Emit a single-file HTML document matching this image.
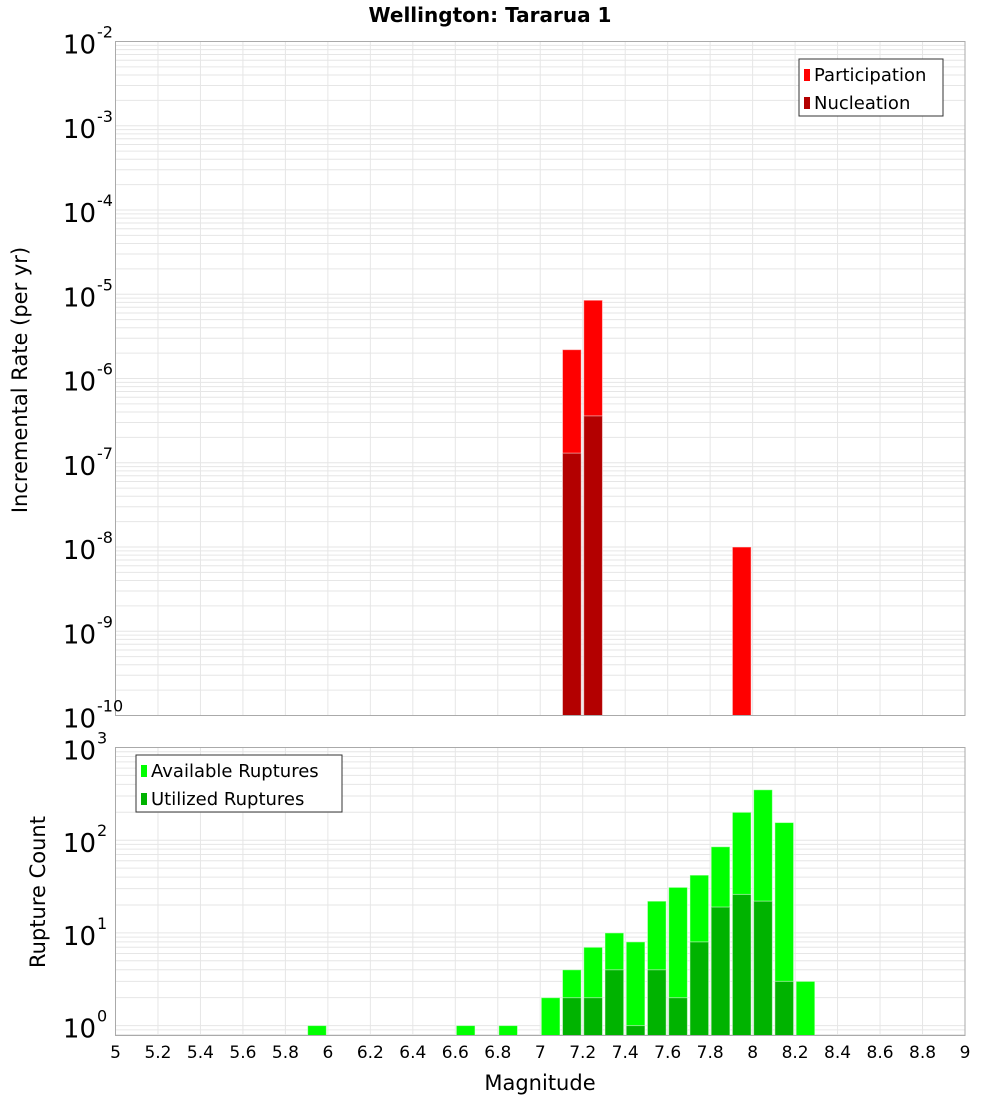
<!DOCTYPE html>
<html><head><meta charset="utf-8"><style>
body{margin:0;background:#fff;font-family:"DejaVu Sans","Liberation Sans",sans-serif;}
svg text{font-family:"DejaVu Sans","Liberation Sans",sans-serif;}
</style></head><body>
<svg id="c" width="1000" height="1100" xmlns="http://www.w3.org/2000/svg">
<text x="490" y="22" text-anchor="middle" font-size="20" font-weight="bold">Wellington: Tararua 1</text>
<text x="540" y="1090" text-anchor="middle" font-size="21">Magnitude</text>
<text transform="translate(27,380) rotate(-90)" text-anchor="middle" font-size="21">Incremental Rate (per yr)</text>
<text transform="translate(45,892) rotate(-90)" text-anchor="middle" font-size="21">Rupture Count</text>
</svg>
<script>
const rateBins=[7.1,7.2,7.9];
const partVals=[2.2e-6,8.5e-6,1.0e-8];
const nuclVals=[1.3e-7,3.6e-7,0];
const countBins=[5.9,6.6,6.8,7.0,7.1,7.2,7.3,7.4,7.5,7.6,7.7,7.8,7.9,8.0,8.1,8.2];
const availVals=[1,1,1,2,4,7,10,8,22,31,42,85,200,350,155,3];
const usedVals=[0,0,0,0,2,2,4,1,4,2,8,19,26,22,3,0];
const xTicks=[5,5.2,5.4,5.6,5.8,6,6.2,6.4,6.6,6.8,7,7.2,7.4,7.6,7.8,8,8.2,8.4,8.6,8.8,9];
const topExps=[-2,-3,-4,-5,-6,-7,-8,-9,-10];
const botExps=[3,2,1,0];

const svg=document.getElementById('c');const NS='http://www.w3.org/2000/svg';
function mk(t,a,p){const e=document.createElementNS(NS,t);for(const k in a)e.setAttribute(k,a[k]);(p||svg).appendChild(e);return e;}
const X0=115.5,X1=965,xmin=5,xmax=9;
const x=v=>X0+(v-xmin)/(xmax-xmin)*(X1-X0);
const T0=41.5,T1=715.5,tmin=-10,tmax=-2;
const yT=v=>T1-(Math.log10(v)-tmin)/(tmax-tmin)*(T1-T0);
const B0=747.5,B1=1035.5,bmin=-0.107,bmax=3;
const yB=v=>B1-(Math.log10(v)-bmin)/(bmax-bmin)*(B1-B0);

function grid(y0,y1,yf,lo,hi){
  const g=mk('g',{});
  
  xTicks.forEach(t=>mk('line',{x1:x(t),x2:x(t),y1:y0,y2:y1,stroke:'#e6e6e6','stroke-width':1},g));
  for(let d=Math.floor(lo);d<hi;d++)for(let m=1;m<10;m++){const v=m*Math.pow(10,d);const yy=yf(v);if(yy>=y0&&yy<=y1)mk('line',{x1:X0,x2:X1,y1:yy,y2:yy,stroke:'#e6e6e6','stroke-width':1},g);}
}
grid(T0,T1,yT,tmin,tmax);grid(B0,B1,yB,-1,bmax);

function bars(bins,vals,yf,base,color,name){
  bins.forEach((b,i)=>{if(!vals[i])return;const y=yf(vals[i]);
    const r=mk('rect',{x:x(b)+1,y:y,width:x(b+0.1)-x(b)-2.5,height:base-y,fill:color,stroke:'#fff','stroke-opacity':0.5,'stroke-width':1});
    });
}
bars(rateBins,partVals,yT,T1,'#ff0000','participation-bar');
bars(rateBins,nuclVals,yT,T1,'#b30000','nucleation-bar');
bars(countBins,availVals,yB,B1,'#00ff00','available-bar');
bars(countBins,usedVals,yB,B1,'#00b300','utilized-bar');

[[T0,T1],[B0,B1]].forEach(([a,b])=>{const r=mk('rect',{x:X0,y:a,width:X1-X0,height:b-a,fill:'none',stroke:'#aaa','stroke-width':1});});

xTicks.forEach(t=>{const e=mk('text',{x:x(t),y:1058,'text-anchor':'middle','font-size':17});e.textContent=String(t);});
function ylab(yy,exp){const e=mk('text',{x:96,y:yy+12,'text-anchor':'end','font-size':26});e.textContent='10';
  const s=mk('text',{x:97,y:yy-4,'text-anchor':'start','font-size':16});s.textContent=String(exp);}
topExps.forEach(e=>ylab(yT(Math.pow(10,e)),e));
botExps.forEach(e=>ylab(yB(Math.pow(10,e)),e));

function legend(lx,ly,w,items,name){const g=mk('g',{});
  mk('rect',{x:lx,y:ly,width:w,height:57,fill:'#fff',stroke:'#333','stroke-width':1},g);
  items.forEach((it,i)=>{mk('rect',{x:lx+5,y:ly+10+i*28,width:6,height:12,fill:it[1]},g);const t=mk('text',{x:lx+15,y:ly+22+i*28,'font-size':18},g);t.textContent=it[0];});}
legend(799,59,144,[['Participation','#ff0000'],['Nucleation','#b30000']],'top-legend');
legend(136,755,206,[['Available Ruptures','#00ff00'],['Utilized Ruptures','#00b300']],'bottom-legend');
</script>
</body></html>
